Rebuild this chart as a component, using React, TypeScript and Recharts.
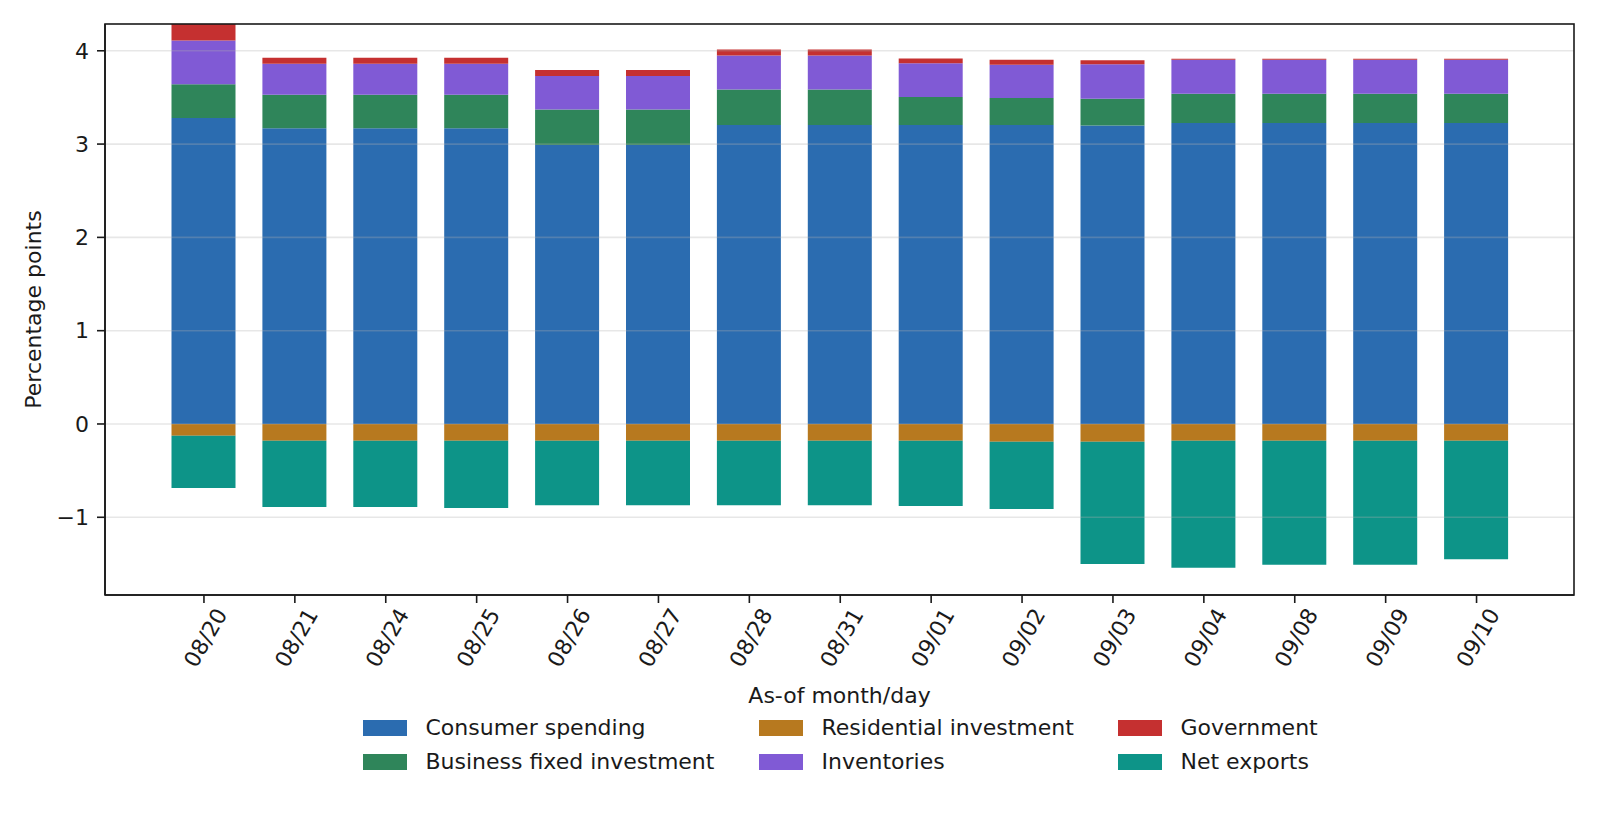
import React from 'react';
import { BarChart, Bar, XAxis, YAxis, ReferenceLine } from 'recharts';

const dates = ['08/20', '08/21', '08/24', '08/25', '08/26', '08/27', '08/28', '08/31', '09/01', '09/02', '09/03', '09/04', '09/08', '09/09', '09/10'];
const consumerSpending = [3.28, 3.17, 3.17, 3.17, 2.99, 2.99, 3.205, 3.205, 3.205, 3.205, 3.2, 3.227, 3.227, 3.227, 3.227];
const residentialInvestment = [-0.125, -0.18, -0.18, -0.18, -0.18, -0.18, -0.18, -0.18, -0.18, -0.19, -0.19, -0.18, -0.18, -0.18, -0.18];
const businessFixedInvestment = [0.36, 0.36, 0.36, 0.36, 0.38, 0.38, 0.38, 0.38, 0.3, 0.29, 0.285, 0.313, 0.313, 0.313, 0.313];
const inventories = [0.47, 0.33, 0.33, 0.33, 0.36, 0.36, 0.365, 0.365, 0.36, 0.355, 0.37, 0.364, 0.364, 0.364, 0.364];
const government = [0.18, 0.065, 0.065, 0.065, 0.064, 0.064, 0.065, 0.065, 0.053, 0.053, 0.043, 0.01, 0.01, 0.01, 0.01];
const netExports = [-0.56, -0.71, -0.71, -0.72, -0.69, -0.69, -0.69, -0.69, -0.7, -0.72, -1.31, -1.36, -1.33, -1.33, -1.27];
const yTicks = [-1, 0, 1, 2, 3, 4];

const series = [
  { key: 'consumer', name: 'Consumer spending', color: '#2B6CB0', values: consumerSpending },
  { key: 'residential', name: 'Residential investment', color: '#B7791F', values: residentialInvestment },
  { key: 'business', name: 'Business fixed investment', color: '#2F855A', values: businessFixedInvestment },
  { key: 'inventories', name: 'Inventories', color: '#805AD5', values: inventories },
  { key: 'government', name: 'Government', color: '#C53030', values: government },
  { key: 'netExports', name: 'Net exports', color: '#0D9488', values: netExports },
];

// legend columns (matplotlib ncol=3, column-major)
const legendColumns = [
  ['consumer', 'business'],
  ['residential', 'inventories'],
  ['government', 'netExports'],
];

const data = dates.map((d, i) => {
  const row: Record<string, any> = { date: d };
  series.forEach((s) => {
    row[s.key] = s.values[i];
  });
  return row;
});

const FONT = '"DejaVu Sans", sans-serif';
const FS = 22;
const AX = '#1a1a1a';

const PLOT = { left: 105, top: 24, right: 1574, bottom: 595 };

const XTick = (props: any) => {
  const { x, y, payload } = props;
  const ex = x + 24;
  const ey = y + 9;
  return (
    <text
      x={ex}
      y={ey}
      transform={`rotate(-60, ${ex}, ${ey})`}
      textAnchor="end"
      fontFamily={FONT}
      fontSize={FS}
      fill={AX}
    >
      {payload.value}
    </text>
  );
};

const fmtY = (v: number) => (v < 0 ? '\u2212' + Math.abs(v) : String(v));

const legendColX = [363, 759, 1118];
const legendRowY = [728, 762];

export default function App() {
  return (
    <div style={{ position: 'absolute', left: 0, top: 0, width: 1600, height: 832, background: '#fff' }}>
      <BarChart
        width={1600}
        height={832}
        data={data}
        margin={{ top: PLOT.top, right: 1600 - PLOT.right, left: 0, bottom: 137 }}
        stackOffset="sign"
        barSize={64}
      >
        <XAxis
          dataKey="date"
          height={100}
          padding={{ left: 53.5, right: 52 }}
          tickSize={8}
          tickMargin={2}
          tick={<XTick />}
          interval={0}
          axisLine={{ stroke: AX, strokeWidth: 1.6 }}
          tickLine={{ stroke: AX, strokeWidth: 1.6 }}
          label={() => (
            <text x={839.5} y={703} textAnchor="middle" fontFamily={FONT} fontSize={FS} fill={AX}>
              As-of month/day
            </text>
          )}
        />
        <YAxis
          width={PLOT.left}
          domain={[-1.833, 4.287]}
          ticks={yTicks}
          allowDataOverflow
          tickFormatter={fmtY}
          tickSize={8}
          tickMargin={8}
          tick={{ fill: AX, fontSize: FS, fontFamily: FONT }}
          axisLine={{ stroke: AX, strokeWidth: 1.6 }}
          tickLine={{ stroke: AX, strokeWidth: 1.6 }}
          label={() => (
            <text
              x={41}
              y={309.5}
              transform="rotate(-90, 41, 309.5)"
              textAnchor="middle"
              fontFamily={FONT}
              fontSize={FS}
              fill={AX}
            >
              Percentage points
            </text>
          )}
        />
        {series.map((s) => (
          <Bar key={s.key} dataKey={s.key} name={s.name} stackId="a" fill={s.color} isAnimationActive={false} />
        ))}
        {yTicks.map((t) => (
          <ReferenceLine key={t} y={t} stroke="#b0b0b0" strokeOpacity={0.3} strokeWidth={1.6} />
        ))}
      </BarChart>
      <svg
        width={1600}
        height={832}
        style={{ position: 'absolute', left: 0, top: 0, pointerEvents: 'none' }}
      >
        <rect
          x={PLOT.left}
          y={PLOT.top}
          width={PLOT.right - PLOT.left}
          height={PLOT.bottom - PLOT.top}
          fill="none"
          stroke={AX}
          strokeWidth={1.6}
        />
      </svg>
      {legendColumns.map((col, ci) =>
        col.map((key, ri) => {
          const s = series.find((q) => q.key === key)!;
          return (
            <div key={key}>
              <div
                style={{
                  position: 'absolute',
                  left: legendColX[ci],
                  top: legendRowY[ri] - 8,
                  width: 44,
                  height: 16,
                  background: s.color,
                }}
              />
              <div
                style={{
                  position: 'absolute',
                  left: legendColX[ci] + 62.5,
                  top: legendRowY[ri] - 14,
                  height: 28,
                  lineHeight: '28px',
                  fontFamily: FONT,
                  fontSize: FS,
                  color: AX,
                  whiteSpace: 'nowrap',
                }}
              >
                {s.name}
              </div>
            </div>
          );
        })
      )}
    </div>
  );
}
